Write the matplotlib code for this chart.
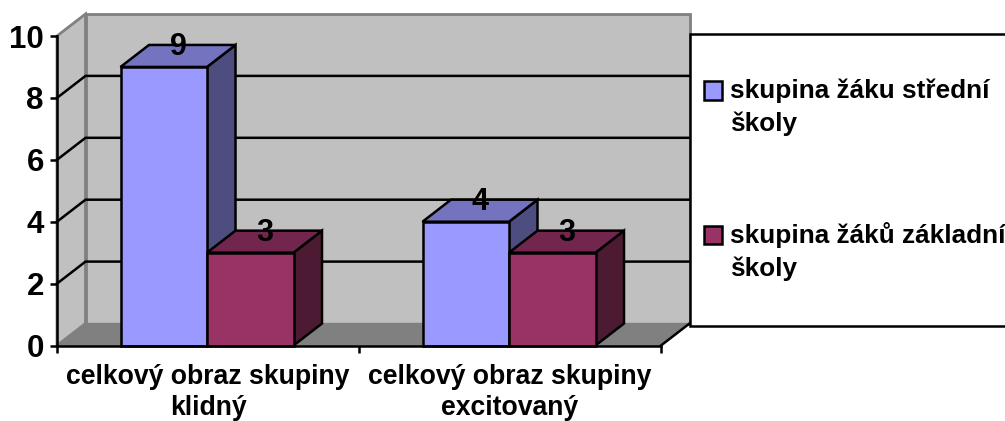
import matplotlib
matplotlib.use("Agg")
import matplotlib.pyplot as plt
from matplotlib.patches import Polygon, Rectangle

plt.rcParams['font.family'] = ['Liberation Sans', 'DejaVu Sans']
plt.rcParams['font.weight'] = 'bold'

# data
categories = ["celkový obraz skupiny\nklidný", "celkový obraz skupiny\nexcitovaný"]
series_names = ["skupina žáku střední\nškoly", "skupina žáků základní\nškoly"]
stredni = [9, 4]
zakladni = [3, 3]
y_ticks = [0, 2, 4, 6, 8, 10]

front = ["#9999FF", "#993366"]
top = ["#7373BF", "#73264D"]
side = ["#4D4D80", "#4D1A33"]
wall = "#C0C0C0"
floor = "#808080"

W, H = 1005, 421
fig = plt.figure(figsize=(W/100, H/100), dpi=100)
ax = fig.add_axes([57/W, (H-345.5)/H, 604/W, 309.5/H])
ax.set_xlim(0, 2)
ax.set_ylim(0, 10)
ax.patch.set_visible(False)

# oblique depth in data units
dx = 28.5/302
dy = 22/30.95
bar_w = 86.5/302
bar_off = 63.5/302
lw = 1.8


def poly(pts, fc, ec="black", z=3, width=lw):
    ax.add_patch(Polygon(pts, closed=True, fc=fc, ec=ec, lw=width, zorder=z,
                         clip_on=False, joinstyle="miter"))


# walls and floor
poly([(0, 0), (dx, dy), (dx, 10+dy), (0, 10)], wall, ec=floor, z=1, width=2)
poly([(dx, dy), (2+dx, dy), (2+dx, 10+dy), (dx, 10+dy)], wall, ec=floor, z=1, width=2)
poly([(0, 0), (dx, dy), (2+dx, dy), (2, 0)], floor, ec=floor, z=1, width=1)

# gridlines, back wall + left wall
for v in y_ticks[1:-1]:
    ax.plot([0, dx, 2+dx], [v, v+dy, v+dy], color="black", lw=lw, zorder=2, clip_on=False)
ax.plot([2, 2+dx], [0, dy], color="black", lw=lw, zorder=2, clip_on=False)

# bars
for i in range(len(categories)):
    for j, vals in enumerate([stredni, zakladni]):
        x0 = i + bar_off + j*bar_w
        x1 = x0 + bar_w
        v = vals[i]
        poly([(x1, 0), (x1+dx, dy), (x1+dx, v+dy), (x1, v)], side[j])
        poly([(x0, v), (x0+dx, v+dy), (x1+dx, v+dy), (x1, v)], top[j])
        poly([(x0, 0), (x1, 0), (x1, v), (x0, v)], front[j])
        ax.text((x0+x1)/2 + dx/2, v+dy-0.08, str(v), ha="center", va="center",
                fontsize=22, zorder=5, clip_on=False)

# axes
for s in ["top", "right"]:
    ax.spines[s].set_visible(False)
ax.spines["left"].set_linewidth(lw)
ax.spines["bottom"].set_linewidth(lw)
ax.spines["left"].set_zorder(4)
ax.spines["bottom"].set_zorder(4)
ax.set_yticks(y_ticks)
ax.tick_params(axis="y", length=5, width=lw, labelsize=22.5, pad=4.5)
ax.set_xticks([0, 1, 2])
ax.set_xticklabels([])
ax.tick_params(axis="x", which="major", length=5, width=lw)
ax.set_xticks([0.5, 1.5], minor=True)
ax.set_xticklabels(categories, minor=True, fontsize=19.2, linespacing=1.28)
ax.tick_params(axis="x", which="minor", length=0, pad=13)

# legend box runs off the right edge
fig.add_artist(Rectangle((690/W, (H-326)/H), 340/W, 292.5/H, transform=fig.transFigure,
                         fc="white", ec="black", lw=lw, clip_on=False))
legend_y = [90.5, 234.5]
for name, color, y in zip(series_names, front, legend_y):
    fig.add_artist(Rectangle((703.5/W, (H-y-9)/H), 18/W, 18/H, transform=fig.transFigure,
                             fc=color, ec="black", lw=lw))
    fig.text(730/W, (H-y+12)/H, name, ha="left", va="top", fontsize=18.85, linespacing=1.43)

fig.savefig("out.png", dpi=100)
